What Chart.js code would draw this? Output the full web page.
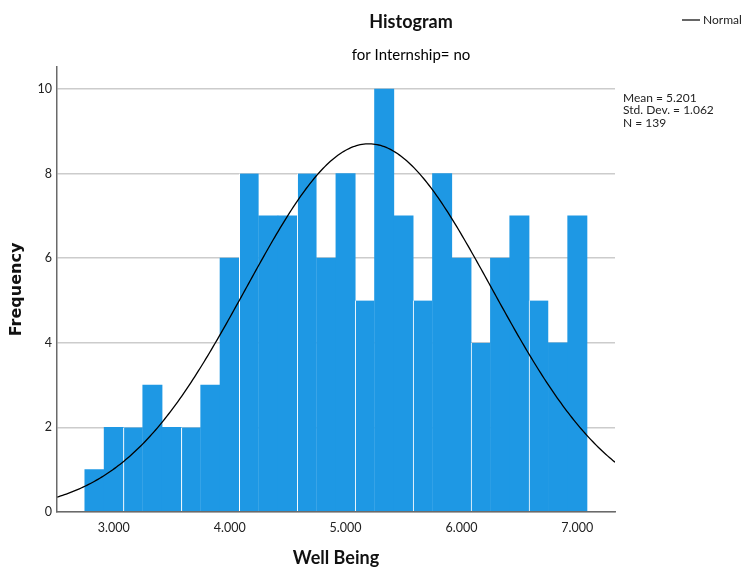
<!DOCTYPE html>
<html>
<head>
<meta charset="utf-8">
<title>Histogram – Well Being</title>
<script src="https://cdn.jsdelivr.net/npm/chart.js@4.4.1/dist/chart.umd.min.js"></script>
<style>
  html, body { margin: 0; padding: 0; background: #ffffff; }
  #wrap { width: 744px; height: 569px; }
</style>
</head>
<body>
<div id="wrap"><canvas id="chart" width="744" height="569"></canvas></div>
<script>
// Well Being scores, group Internship = no: bin midpoints and their counts
const BIN_MIDPOINTS = [2.8333, 3.0000, 3.1667, 3.3333, 3.5000, 3.6667, 3.8333, 4.0000,
                       4.1667, 4.3333, 4.5000, 4.6667, 4.8333, 5.0000, 5.1667, 5.3333,
                       5.5000, 5.6667, 5.8333, 6.0000, 6.1667, 6.3333, 6.5000, 6.6667,
                       6.8333, 7.0000];
const FREQUENCIES = [1, 2, 2, 3, 2, 2, 3, 6, 8, 7, 7, 8, 6, 8, 5, 10, 7, 5, 8, 6, 4, 6, 7, 5, 4, 7];

// Axis ticks
const X_TICKS = [3, 4, 5, 6, 7];
const Y_TICKS = [0, 2, 4, 6, 8, 10];

// Summary statistics shown beside the plot (the normal curve is fitted from them)
const STAT_MEAN = 5.201;
const STAT_SD = 1.062;
const STAT_N = 139;

const TITLE = 'Histogram';
const SUBTITLE = 'for Internship= no';
const X_TITLE = 'Well Being';
const Y_TITLE = 'Frequency';
const CURVE_LABEL = 'Normal';

// Axis extents
const X_MIN = 2.51, X_MAX = 7.325;
const Y_MIN = 0, Y_MAX = 10.52;

const FONT = "Lato, 'Liberation Sans', sans-serif";
const BAR_BLUE = 'rgb(30,152,228)';

// Expected counts under the fitted normal distribution (count = N * binWidth * pdf)
const binWidth = BIN_MIDPOINTS[1] - BIN_MIDPOINTS[0];
const normalCurve = [];
const CURVE_STEPS = 300;
for (let i = 0; i <= CURVE_STEPS; i++) {
  const x = X_MIN + (X_MAX - X_MIN) * i / CURVE_STEPS;
  const z = (x - STAT_MEAN) / STAT_SD;
  const y = STAT_N * binWidth * Math.exp(-0.5 * z * z) / (STAT_SD * Math.sqrt(2 * Math.PI));
  normalCurve.push({ x, y });
}

const bars = BIN_MIDPOINTS.map((m, i) => ({ x: m, y: FREQUENCIES[i] }));

// Centres the title block over the plot + side panel area
const titleOffset = {
  id: 'titleOffset',
  afterLayout(chart) {
    chart.boxes.forEach(b => {
      if (b.options && (b.options.text === TITLE || b.options.text === SUBTITLE)) {
        b.left = 78;
        b.right = chart.width;
      }
    });
  }
};

// Legend entry for the curve and the statistics panel
const sidePanel = {
  id: 'sidePanel',
  afterDraw(chart) {
    const ctx = chart.ctx;
    const area = chart.chartArea;
    ctx.save();
    // legend
    ctx.strokeStyle = '#000';
    ctx.lineWidth = 1.2;
    ctx.beginPath();
    ctx.moveTo(682, 20);
    ctx.lineTo(700, 20);
    ctx.stroke();
    ctx.fillStyle = '#222';
    ctx.font = '12px ' + FONT;
    ctx.textBaseline = 'middle';
    ctx.textAlign = 'left';
    ctx.fillText(chart.data.datasets[0].label, 703, 20);
    // statistics
    ctx.font = '12px ' + FONT;
    const lines = [
      'Mean = ' + STAT_MEAN.toFixed(3),
      'Std. Dev. = ' + STAT_SD.toFixed(3),
      'N = ' + STAT_N
    ];
    lines.forEach((t, i) => ctx.fillText(t, area.right + 8, area.top + 31 + i * 12.5));
    ctx.restore();
  }
};

new Chart(document.getElementById('chart'), {
  type: 'bar',
  data: {
    datasets: [
      {
        type: 'line',
        label: CURVE_LABEL,
        data: normalCurve,
        borderColor: '#000',
        borderWidth: 1.3,
        pointRadius: 0,
        tension: 0,
        fill: false,
        order: 0
      },
      {
        type: 'bar',
        label: 'Frequency',
        data: bars,
        backgroundColor: BAR_BLUE,
        borderColor: '#ffffff',
        // thin white separator on every third bin edge
        borderWidth: ctx => (ctx.dataIndex % 3 === 2 ? { top: 0, right: 0, bottom: 0, left: 1 } : 0),
        borderSkipped: false,
        barPercentage: 1,
        categoryPercentage: 1,
        order: 1
      }
    ]
  },
  options: {
    responsive: false,
    animation: false,
    events: [],
    layout: { padding: { left: 0, right: 129, top: 0, bottom: 0 } },
    plugins: {
      legend: { display: false },
      tooltip: { enabled: false },
      title: {
        display: true,
        text: TITLE,
        color: '#111',
        font: { family: FONT, size: 18, weight: 'bold', lineHeight: 1.2 },
        padding: { top: 11.2, bottom: 13.2 }
      },
      subtitle: {
        display: true,
        text: SUBTITLE,
        color: '#000',
        font: { family: FONT, size: 15, weight: 'normal', lineHeight: 1.2 },
        padding: { top: 0, bottom: 3 }
      }
    },
    scales: {
      x: {
        type: 'linear',
        min: X_MIN,
        max: X_MAX,
        offset: false,
        afterBuildTicks: s => { s.ticks = X_TICKS.map(v => ({ value: v })); },
        afterFit: s => { s.height = 57; },
        grid: { display: false, drawTicks: false },
        border: { display: true, color: '#6a6a6a', width: 1.5, z: 1 },
        ticks: {
          color: '#222',
          padding: 8,
          maxRotation: 0,
          font: { family: FONT, size: 12.5 },
          callback: v => Number(v).toFixed(3)
        },
        title: {
          display: true,
          text: X_TITLE,
          color: '#111',
          font: { family: FONT, size: 18, weight: 'bold', lineHeight: 1.2 },
          padding: { top: 0, bottom: 0 }
        }
      },
      y: {
        type: 'linear',
        min: Y_MIN,
        max: Y_MAX,
        afterBuildTicks: s => { s.ticks = Y_TICKS.map(v => ({ value: v })); },
        afterFit: s => { s.width = 57; },
        grid: { color: '#cccccc', lineWidth: 1.5, drawTicks: false },
        border: { display: true, color: '#6a6a6a', width: 1.5, z: 1 },
        ticks: {
          color: '#222',
          padding: 5,
          font: { family: FONT, size: 12.5 },
          callback: v => String(v)
        },
        title: {
          display: true,
          text: Y_TITLE,
          color: '#111',
          font: { family: "'DejaVu Sans', sans-serif", size: 16, weight: 'bold', lineHeight: 1.2 },
          padding: { top: 7.4, bottom: 0 }
        }
      }
    }
  },
  plugins: [titleOffset, sidePanel]
});
</script>
</body>
</html>
